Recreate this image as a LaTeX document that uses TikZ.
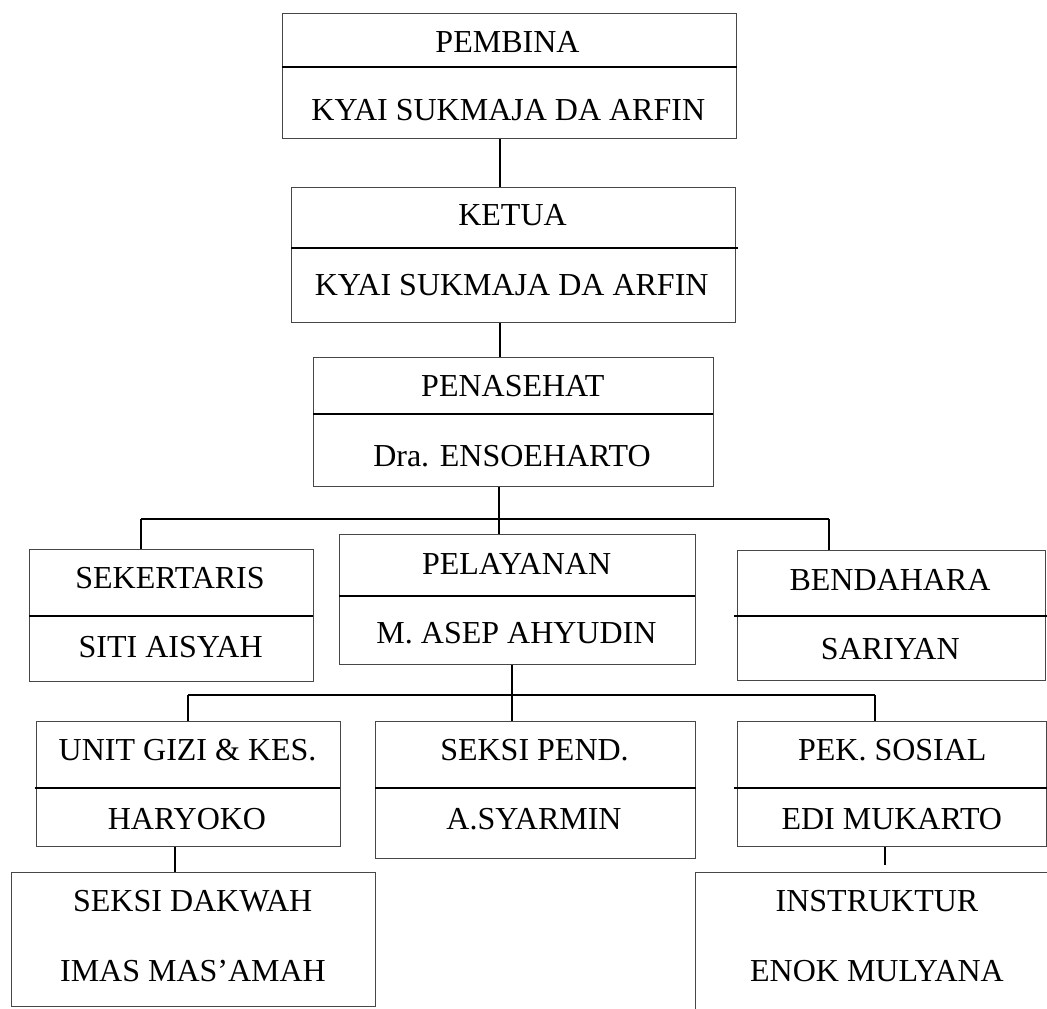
\documentclass[tikz,border=0pt]{standalone}
\usepackage{fontspec}
\setmainfont{Liberation Serif}
\begin{document}
\begin{tikzpicture}[x=1pt,y=-1pt,
  box/.style={draw=black!72,line width=1.3pt,rectangle,inner sep=0pt,anchor=north west},
  divline/.style={line width=2pt,black},
  conn/.style={line width=2pt,black},
  lbl/.style={anchor=base,inner sep=0pt,font=\fontsize{32}{38}\selectfont}]
\useasboundingbox[fill=white] (0,0) rectangle (1047,1009);
% boxes
\node[box,minimum width=454pt,minimum height=125pt] (pembina) at (282,13) {};
\node[box,minimum width=444pt,minimum height=135pt] (ketua) at (291,187) {};
\node[box,minimum width=400pt,minimum height=129pt] (penasehat) at (313,357) {};
\node[box,minimum width=284pt,minimum height=132pt] (sekertaris) at (29,549) {};
\node[box,minimum width=356pt,minimum height=130pt] (pelayanan) at (339,534) {};
\node[box,minimum width=308pt,minimum height=130pt] (bendahara) at (737,550) {};
\node[box,minimum width=304pt,minimum height=125pt] (gizi) at (36,721) {};
\node[box,minimum width=320pt,minimum height=137pt] (pend) at (375,721) {};
\node[box,minimum width=309pt,minimum height=125pt] (sosial) at (737,721) {};
\node[box,minimum width=364pt,minimum height=134pt] (dakwah) at (11,872) {};
\node[box,minimum width=380pt,minimum height=160pt] (instruktur) at (695,872) {};
% dividers
\draw[divline] (282,67) -- (737,67);
\draw[divline] (291,248) -- (738,248);
\draw[divline] (313,414) -- (713,414);
\draw[divline] (29,616) -- (313,616);
\draw[divline] (339,596) -- (695,596);
\draw[divline] (734,616) -- (1047,616);
\draw[divline] (34.5,788) -- (340,788);
\draw[divline] (375,788) -- (696,788);
\draw[divline] (734,788) -- (1047,788);
% labels
\node[lbl] (t1) at (507.5,52.3) {PEMBINA};
\node[lbl] (t2) at (508.3,120.7) {KYAI SUKMAJA DA ARFIN};
\node[lbl] (t3) at (512.5,225.7) {KETUA};
\node[lbl] (t4) at (511.7,295.7) {KYAI SUKMAJA DA ARFIN};
\node[lbl] (t5) at (512.8,396.7) {PENASEHAT};
\node[lbl] (t6) at (512,466) {Dra. ENSOEHARTO};
\node[lbl] (t7) at (170,588.3) {SEKERTARIS};
\node[lbl] (t8) at (170.7,657.3) {SITI AISYAH};
\node[lbl] (t9) at (516.6,574.3) {PELAYANAN};
\node[lbl] (t10) at (516.5,643.7) {M. ASEP AHYUDIN};
\node[lbl] (t11) at (890,590) {BENDAHARA};
\node[lbl] (t12) at (890.3,659.3) {SARIYAN};
\node[lbl] (t13) at (187.6,760.7) {UNIT GIZI \& KES.};
\node[lbl] (t14) at (187,829.3) {HARYOKO};
\node[lbl] (t15) at (534.5,760.7) {SEKSI PEND.};
\node[lbl] (t16) at (534,829.3) {A.SYARMIN};
\node[lbl] (t17) at (892.3,760.7) {PEK. SOSIAL};
\node[lbl] (t18) at (891.8,829.3) {EDI MUKARTO};
\node[lbl] (t19) at (192.7,911.7) {SEKSI DAKWAH};
\node[lbl] (t20) at (193,981) {IMAS MAS’AMAH};
\node[lbl] (t21) at (877,911.7) {INSTRUKTUR};
\node[lbl] (t22) at (877,981) {ENOK MULYANA};
% junction coordinates
\coordinate (c1) at (500,0);
\coordinate (c2) at (499,519);
\coordinate (bus1l) at (141,519);
\coordinate (bus1r) at (829,519);
\coordinate (c3) at (511.5,695);
\coordinate (bus2l) at (188,695);
\coordinate (bus2r) at (875,695);
\coordinate (c4) at (175,0);
\coordinate (c5end) at (884.8,865);
% connectors
\draw[conn] (pembina.south -| c1) -- (ketua.north -| c1);
\draw[conn] (ketua.south -| c1) -- (penasehat.north -| c1);
\draw[conn] (penasehat.south -| c2) -- (c2);
\draw[conn] (bus1l) -- (bus1r);
\draw[conn] (bus1l) -- (sekertaris.north -| bus1l);
\draw[conn] (c2) -- (pelayanan.north -| c2);
\draw[conn] (bus1r) -- (bendahara.north -| bus1r);
\draw[conn] (pelayanan.south -| c3) -- (c3);
\draw[conn] (bus2l) -- (bus2r);
\draw[conn] (bus2l) -- (gizi.north -| bus2l);
\draw[conn] (c3) -- (pend.north -| c3);
\draw[conn] (bus2r) -- (sosial.north -| bus2r);
\draw[conn] (gizi.south -| c4) -- (dakwah.north -| c4);
\draw[conn] (sosial.south -| c5end) -- (c5end);
\end{tikzpicture}
\end{document}
